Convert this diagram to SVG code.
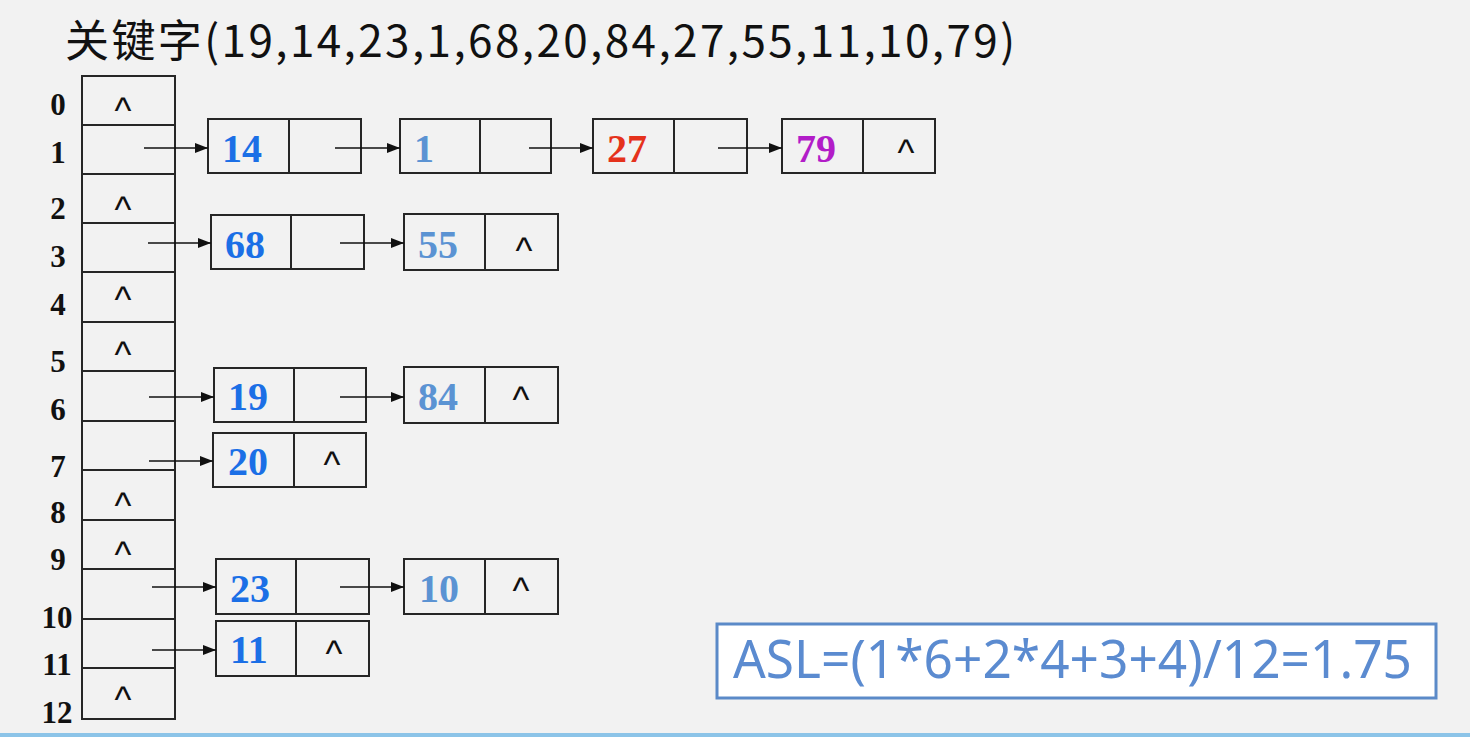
<svg xmlns="http://www.w3.org/2000/svg" width="1470" height="737" viewBox="0 0 1470 737">
<defs>
<style>
.bx{fill:none;stroke:#262626;stroke-width:2}
.ln{stroke:#262626;stroke-width:2;fill:none}
.cn{stroke:#111;stroke-width:1.6;fill:none;marker-end:url(#ah)}
.idx{font-family:"Liberation Serif",serif;font-weight:bold;font-size:31px;fill:#111;text-anchor:middle}
.num{font-family:"Liberation Serif",serif;font-weight:bold;font-size:40px}
.c1{fill:#1b6fe6}
.c2{fill:#5b93d3}
.c3{fill:#e5321c}
.c4{fill:#b21dc8}
.nil{font-family:"Liberation Sans",sans-serif;font-size:36px;fill:#111;text-anchor:middle}
</style>
<marker id="ah" markerUnits="userSpaceOnUse" markerWidth="13" markerHeight="10" refX="13" refY="5" orient="auto">
<path d="M0,0 L13,5 L0,10 z" fill="#111"/>
</marker>
</defs>
<rect x="0" y="0" width="1470" height="737" fill="#f2f2f2"/>
<rect x="0" y="733" width="1470" height="4" fill="#8cc4e8"/>

<g id="title">
<text x="65" y="57" font-family="'Noto Sans CJK SC','Noto Sans',sans-serif" font-size="44" fill="#111" textLength="950" lengthAdjust="spacing">关键字(19,14,23,1,68,20,84,27,55,11,10,79)</text>
</g>

<g id="table">
<rect class="bx" x="82" y="76" width="93" height="643"/>
<path class="ln" d="M82,125H175M82,174H175M82,223H175M82,272H175M82,322H175M82,371H175M82,421H175M82,470H175M82,520H175M82,569H175M82,619H175M82,668H175"/>
<text class="idx" x="58" y="115">0</text>
<text class="idx" x="58" y="163">1</text>
<text class="idx" x="58" y="219">2</text>
<text class="idx" x="58" y="267">3</text>
<text class="idx" x="58" y="315">4</text>
<text class="idx" x="58" y="372">5</text>
<text class="idx" x="58" y="420">6</text>
<text class="idx" x="58" y="477">7</text>
<text class="idx" x="58" y="523">8</text>
<text class="idx" x="58" y="570">9</text>
<text class="idx" x="57" y="628">10</text>
<text class="idx" x="57" y="675">11</text>
<text class="idx" x="57" y="723">12</text>
<text class="nil" x="123" y="123">^</text>
<text class="nil" x="123" y="222">^</text>
<text class="nil" x="123" y="312">^</text>
<text class="nil" x="123" y="367">^</text>
<text class="nil" x="123" y="518">^</text>
<text class="nil" x="123" y="567">^</text>
<text class="nil" x="123" y="712">^</text>
</g>

<g id="n14"><rect class="bx" x="208" y="119" width="153" height="54"/><path class="ln" d="M289,119V173"/><text class="num c1" x="222" y="162">14</text></g>
<g id="n1"><rect class="bx" x="400" y="119" width="151" height="54"/><path class="ln" d="M480,119V173"/><text class="num c2" x="414" y="162">1</text></g>
<g id="n27"><rect class="bx" x="593" y="119" width="154" height="54"/><path class="ln" d="M674,119V173"/><text class="num c3" x="607" y="162">27</text></g>
<g id="n79"><rect class="bx" x="782" y="119" width="153" height="54"/><path class="ln" d="M863,119V173"/><text class="num c4" x="796" y="162">79</text><text class="nil" x="906" y="165">^</text></g>

<g id="n68"><rect class="bx" x="211" y="215" width="153" height="54"/><path class="ln" d="M291,215V269"/><text class="num c1" x="225" y="258">68</text></g>
<g id="n55"><rect class="bx" x="404" y="214" width="154" height="56"/><path class="ln" d="M485,214V270"/><text class="num c2" x="418" y="258">55</text><text class="nil" x="524" y="263">^</text></g>

<g id="n19"><rect class="bx" x="214" y="368" width="152" height="54"/><path class="ln" d="M294,368V422"/><text class="num c1" x="228" y="410">19</text></g>
<g id="n84"><rect class="bx" x="404" y="367" width="154" height="56"/><path class="ln" d="M485,367V423"/><text class="num c2" x="418" y="410">84</text><text class="nil" x="521" y="412">^</text></g>

<g id="n20"><rect class="bx" x="213" y="433" width="153" height="54"/><path class="ln" d="M294,433V487"/><text class="num c1" x="228" y="475">20</text><text class="nil" x="332" y="477">^</text></g>

<g id="n23"><rect class="bx" x="216" y="559" width="153" height="55"/><path class="ln" d="M296,559V614"/><text class="num c1" x="230" y="602">23</text></g>
<g id="n10"><rect class="bx" x="404" y="559" width="154" height="55"/><path class="ln" d="M485,559V614"/><text class="num c2" x="419" y="602">10</text><text class="nil" x="521" y="603">^</text></g>

<g id="n11"><rect class="bx" x="216" y="621" width="153" height="55"/><path class="ln" d="M296,621V676"/><text class="num c1" x="230" y="663">11</text><text class="nil" x="334" y="666">^</text></g>

<g id="connectors">
<path class="cn" d="M144,148H208"/>
<path class="cn" d="M335,148H400"/>
<path class="cn" d="M529,148H593"/>
<path class="cn" d="M718,148H782"/>
<path class="cn" d="M148,243H211"/>
<path class="cn" d="M340,243H404"/>
<path class="cn" d="M149,397H214"/>
<path class="cn" d="M340,397H404"/>
<path class="cn" d="M149,461H213"/>
<path class="cn" d="M152,587H216"/>
<path class="cn" d="M340,587H404"/>
<path class="cn" d="M152,650H216"/>
</g>

<g id="asl">
<rect x="717" y="624" width="719" height="74" fill="#ffffff" stroke="#5b8ac8" stroke-width="3"/>
<text x="733" y="678" font-family="'Noto Sans',sans-serif" font-size="52" fill="#5b8bd0" textLength="679" lengthAdjust="spacingAndGlyphs">ASL=(1*6+2*4+3+4)/12=1.75</text>
</g>
</svg>
